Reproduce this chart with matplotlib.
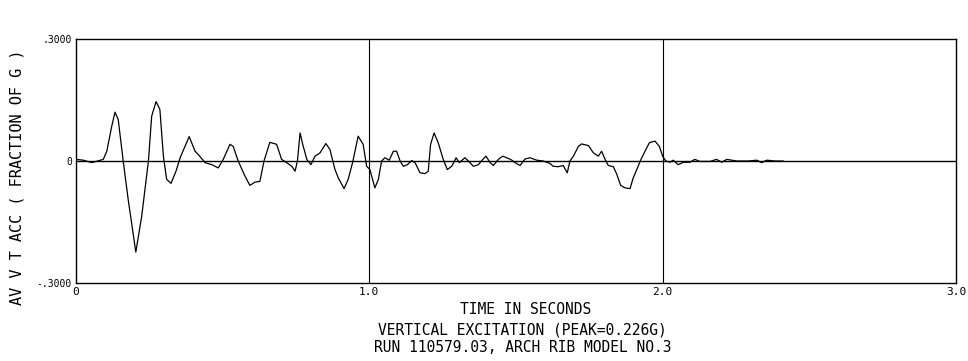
import numpy as np
import matplotlib
matplotlib.use("Agg")
from matplotlib import pyplot as plt

# time (s) and vertical acceleration (fraction of g)
t = [0.000, 0.025, 0.054, 0.093, 0.105, 0.122, 0.133, 0.144, 0.161, 0.178,
     0.204, 0.224, 0.247, 0.258, 0.273, 0.286, 0.298, 0.309, 0.324, 0.341,
     0.355, 0.386, 0.406, 0.417, 0.440, 0.463, 0.485, 0.502, 0.525, 0.536,
     0.553, 0.576, 0.593, 0.610, 0.627, 0.641, 0.661, 0.684, 0.701, 0.718,
     0.736, 0.747, 0.755, 0.764, 0.773, 0.787, 0.801, 0.815, 0.832, 0.852,
     0.866, 0.883, 0.894, 0.914, 0.928, 0.943, 0.962, 0.979, 0.991, 1.002,
     1.019, 1.031, 1.042, 1.053, 1.068, 1.082, 1.093, 1.105, 1.116, 1.130,
     1.145, 1.156, 1.173, 1.190, 1.201, 1.209, 1.221, 1.235, 1.252, 1.266,
     1.281, 1.296, 1.307, 1.326, 1.338, 1.355, 1.372, 1.387, 1.398, 1.412,
     1.423, 1.440, 1.455, 1.468, 1.482, 1.497, 1.514, 1.531, 1.548, 1.571,
     1.593, 1.616, 1.627, 1.644, 1.661, 1.675, 1.684, 1.696, 1.713, 1.724,
     1.747, 1.764, 1.781, 1.792, 1.804, 1.815, 1.832, 1.844, 1.857, 1.872,
     1.889, 1.900, 1.912, 1.925, 1.940, 1.955, 1.974, 1.989, 2.000, 2.011,
     2.025, 2.036, 2.053, 2.071, 2.093, 2.110, 2.127, 2.162, 2.184, 2.202,
     2.219, 2.253, 2.292, 2.321, 2.338, 2.355, 2.383, 2.411]
acc = [0.004, 0.002, -0.004, 0.004, 0.024, 0.086, 0.120, 0.102, 0.000, -0.095,
       -0.224, -0.136, 0.000, 0.110, 0.146, 0.127, 0.012, -0.045, -0.055, -0.025,
       0.008, 0.060, 0.024, 0.016, -0.004, -0.009, -0.017, 0.004, 0.041, 0.036,
       0.000, -0.037, -0.060, -0.052, -0.050, 0.000, 0.046, 0.041, 0.004, -0.004,
       -0.013, -0.025, 0.000, 0.069, 0.041, 0.004, -0.009, 0.012, 0.020, 0.043,
       0.028, -0.021, -0.041, -0.068, -0.045, -0.004, 0.061, 0.041, -0.013, -0.021,
       -0.066, -0.045, 0.000, 0.008, 0.002, 0.024, 0.024, 0.000, -0.013, -0.009,
       0.001, -0.004, -0.029, -0.031, -0.025, 0.041, 0.069, 0.045, 0.004, -0.021,
       -0.013, 0.008, -0.004, 0.008, 0.000, -0.013, -0.009, 0.004, 0.012, -0.004,
       -0.011, 0.004, 0.012, 0.008, 0.004, -0.004, -0.011, 0.005, 0.008, 0.002,
       0.000, -0.006, -0.013, -0.014, -0.011, -0.029, 0.000, 0.012, 0.036, 0.042,
       0.038, 0.020, 0.012, 0.024, 0.004, -0.011, -0.014, -0.033, -0.060, -0.066,
       -0.068, -0.041, -0.021, 0.002, 0.024, 0.045, 0.049, 0.036, 0.012, 0.000,
       -0.003, 0.002, -0.009, -0.003, -0.003, 0.004, -0.001, -0.001, 0.004, -0.003,
       0.004, 0.000, 0.000, 0.002, -0.004, 0.002, 0.000, 0.000]

xticks = [0, 1.0, 2.0, 3.0]
xlabels = ["0", "1.0", "2.0", "3.0"]
yticks = [-0.3, 0, 0.3]
ylabels = ["-.3000", "0", ".3000"]

mono = "DejaVu Sans Mono"

fig = plt.figure(figsize=(9.68, 3.61), dpi=100)
ax = fig.add_axes([0.0785, 0.216, 0.909, 0.676])

ax.plot(t, acc, color="black", lw=0.9)
ax.axhline(0, color="black", lw=1.0)
for xv in [1.0, 2.0]:
    ax.axvline(xv, color="black", lw=0.8)

ax.set_xlim(0, 3.0)
ax.set_ylim(-0.3, 0.3)
ax.set_xticks(xticks)
ax.set_xticklabels(xlabels, fontfamily=mono, fontsize=8)
ax.set_yticks(yticks)
ax.set_yticklabels(ylabels, fontfamily=mono, fontsize=7)
ax.tick_params(length=0, pad=3)
for s in ax.spines.values():
    s.set_linewidth(1.0)

fig.text(0.018, 0.51, "AV V T ACC ( FRACTION OF G )", rotation=90,
         ha="center", va="center", fontfamily=mono, fontsize=11)
fig.text(0.543, 1 - 310 / 361, "TIME IN SECONDS", ha="center", va="center",
         fontfamily=mono, fontsize=10.5)
fig.text(0.540, 1 - 330 / 361, "VERTICAL EXCITATION (PEAK=0.226G)", ha="center",
         va="center", fontfamily=mono, fontsize=10.5)
fig.text(0.540, 1 - 348 / 361, "RUN 110579.03, ARCH RIB MODEL NO.3", ha="center",
         va="center", fontfamily=mono, fontsize=10.5)

fig.savefig("out.png", dpi=100)
